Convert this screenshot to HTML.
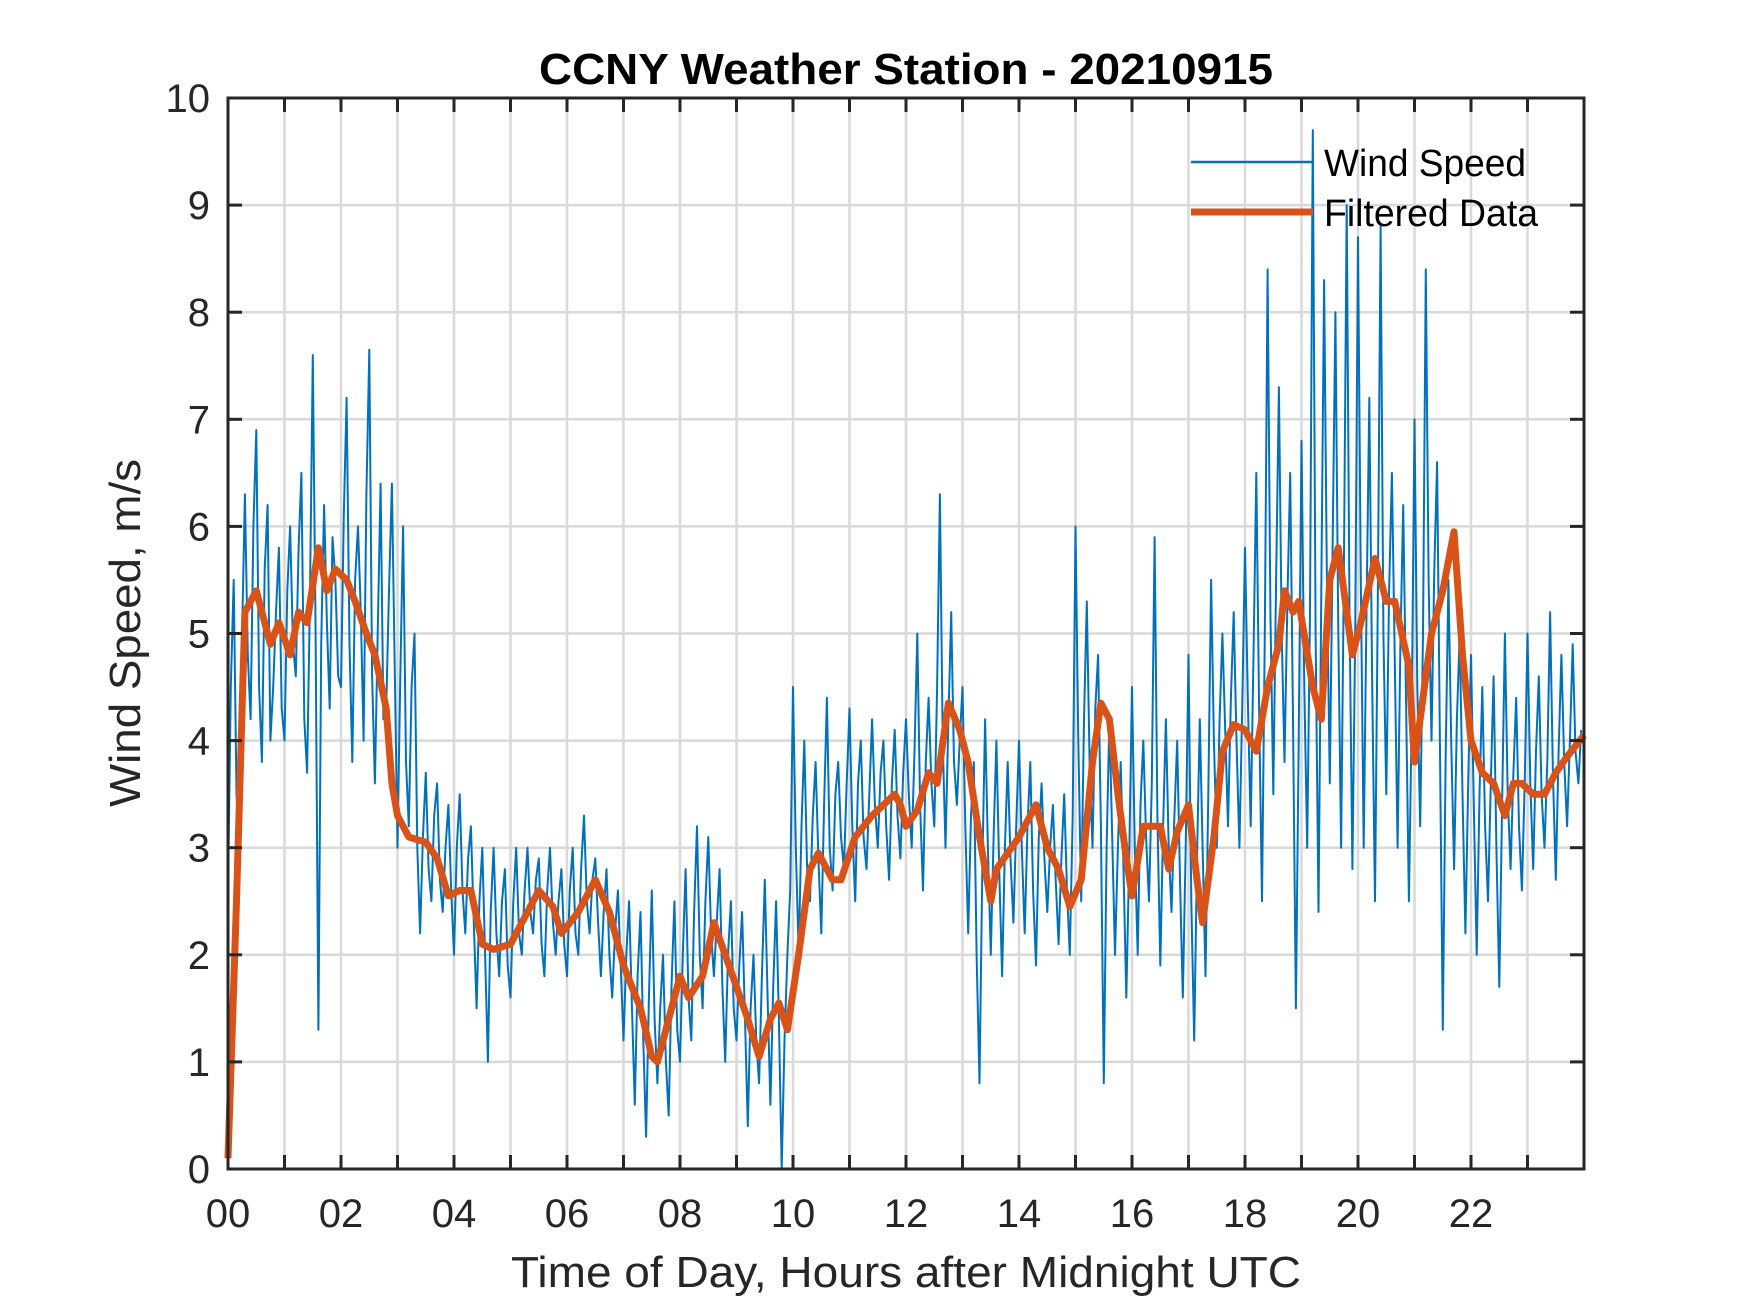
<!DOCTYPE html>
<html><head><meta charset="utf-8"><style>
html,body{margin:0;padding:0;background:#fff;}
svg{display:block;font-family:"Liberation Sans",Arial,sans-serif;}
</style></head><body>
<svg id="chart" width="1750" height="1313" viewBox="0 0 1750 1313" xmlns="http://www.w3.org/2000/svg">
<rect width="1750" height="1313" fill="#fff"/>
<g id="grid"></g>
<g id="series"></g>
<g id="axes"></g>
<text x="906" y="84" text-anchor="middle" font-weight="bold" font-size="44" fill="#000" textLength="734" lengthAdjust="spacingAndGlyphs">CCNY Weather Station - 20210915</text>
<text x="906" y="1287" text-anchor="middle" font-size="44" fill="#262626" textLength="790" lengthAdjust="spacingAndGlyphs">Time of Day, Hours after Midnight UTC</text>
<text transform="translate(140,633) rotate(-90)" text-anchor="middle" font-size="44" fill="#262626" textLength="348" lengthAdjust="spacingAndGlyphs">Wind Speed, m/s</text>
<g>
<line x1="1191" y1="162" x2="1313" y2="162" stroke="#0072BD" stroke-width="2.5"/>
<text x="1324" y="176" font-size="38" fill="#000" textLength="202" lengthAdjust="spacingAndGlyphs">Wind Speed</text>
<line x1="1191" y1="212" x2="1313" y2="212" stroke="#D95319" stroke-width="7"/>
<text x="1324" y="226" font-size="38" fill="#000" textLength="214" lengthAdjust="spacingAndGlyphs">Filtered Data</text>
</g>
</svg>
<script>
const xTickLabels=["00","02","04","06","08","10","12","14","16","18","20","22"];
const yTickLabels=["0","1","2","3","4","5","6","7","8","9","10"];
const rawStep=0.05;
const rawValues=[
2.6,4.5,5.5,3.5,3.0,5.0,6.3,4.8,4.2,6.0,6.9,4.5,3.8,5.6,6.2,4.0,4.5,5.2,5.8,4.3,
4.0,5.4,6.0,4.9,4.6,5.8,6.5,4.2,3.7,5.3,7.6,5.0,1.3,4.9,6.2,5.1,4.3,5.9,5.5,4.6,
4.5,6.1,7.2,4.9,3.8,5.5,6.0,5.2,4.0,6.3,7.65,4.6,3.6,5.0,6.4,4.2,4.3,5.4,6.4,4.7,
3.0,4.6,6.0,3.8,3.2,4.5,5.0,3.0,2.2,3.1,3.7,2.8,2.5,3.3,3.6,2.7,2.4,3.0,3.4,2.6,
2.0,3.0,3.5,2.6,2.2,2.9,3.2,2.3,1.5,2.5,3.0,2.0,1.0,2.4,3.0,2.2,1.8,2.5,2.8,1.9,
1.6,2.5,3.0,2.2,2.0,2.6,3.0,2.4,2.2,2.7,2.9,2.1,1.8,2.6,3.0,2.3,2.0,2.5,2.8,2.1,
1.8,2.6,3.0,2.2,2.0,2.8,3.3,2.5,2.2,2.7,2.9,2.3,1.8,2.4,2.8,2.0,1.6,2.2,2.6,1.9,
1.2,2.0,2.5,1.5,0.6,1.8,2.4,1.2,0.3,1.6,2.6,1.4,0.8,1.5,2.0,1.0,0.5,1.7,2.5,1.3,
1.0,2.0,2.8,1.6,1.2,2.4,3.2,2.0,1.5,2.5,3.1,2.2,1.8,2.3,2.8,1.7,1.0,2.0,2.5,1.5,
1.2,1.9,2.4,1.4,0.4,1.5,2.0,1.2,0.8,1.8,2.7,1.6,0.6,1.7,2.5,1.4,0.0,1.2,2.0,2.6,
4.5,3.0,2.0,3.2,4.0,2.8,2.5,3.3,3.8,2.9,2.2,3.4,4.4,3.0,2.6,3.5,3.8,3.1,2.8,3.6,
4.3,3.2,2.5,3.6,4.0,3.1,2.8,3.5,4.2,3.4,3.0,3.7,4.0,3.2,2.7,3.6,4.1,3.3,2.9,3.7,
4.2,3.5,3.0,3.9,5.0,3.4,2.6,3.8,4.4,3.6,3.2,4.5,6.3,4.0,3.0,4.2,5.2,3.8,3.4,4.0,
4.5,3.2,2.2,3.3,3.8,2.0,0.8,2.8,4.2,3.0,2.0,3.1,4.0,2.8,1.8,3.0,3.8,2.9,2.3,3.2,
4.0,3.0,2.2,3.2,3.8,2.6,1.9,3.1,3.6,2.9,2.4,3.0,3.4,2.7,2.1,2.9,3.5,2.6,2.0,3.3,
6.0,4.0,2.5,4.2,5.3,3.8,3.0,4.3,4.8,3.2,0.8,3.0,4.2,3.1,2.0,3.0,3.8,2.8,1.6,2.9,
4.5,3.0,2.0,3.4,4.0,3.1,2.5,3.6,5.9,3.3,1.9,3.2,4.2,3.0,2.4,3.3,4.0,2.7,1.6,3.0,
4.8,2.5,1.2,2.9,4.2,3.0,1.8,3.5,5.5,4.0,3.0,4.2,5.0,4.1,3.2,4.4,5.2,4.0,3.0,4.3,
5.8,4.4,3.2,4.8,6.5,4.3,2.5,5.0,8.4,5.2,3.5,5.5,7.3,5.0,3.8,5.3,6.5,4.2,1.5,4.0,
6.8,4.5,3.0,5.2,9.7,5.0,2.4,5.4,8.3,5.5,3.6,5.8,8.0,5.1,3.0,5.6,9.0,5.2,2.8,5.0,
8.7,5.5,3.0,5.2,7.2,4.6,2.5,5.3,8.8,5.0,3.5,5.4,6.5,4.8,3.0,4.9,6.2,4.4,2.5,4.2,
7.0,4.5,3.2,5.0,8.4,5.5,4.0,5.6,6.6,4.0,1.3,3.8,5.5,4.0,2.8,4.2,5.0,3.5,2.2,3.6,
4.8,3.4,2.0,3.5,4.5,3.2,2.5,3.6,4.6,3.0,1.7,3.4,5.0,3.5,2.8,3.7,4.4,3.2,2.6,3.6,
5.0,3.6,2.8,3.9,4.6,3.5,3.0,3.8,5.2,3.7,2.7,3.9,4.8,3.8,3.2,4.0,4.9,3.9,3.6,4.1];
const filtHours=[0,0.15,0.3,0.5,0.6,0.75,0.9,1.1,1.25,1.4,1.6,1.75,1.9,2.1,2.25,2.45,2.6,2.8,2.9,3.0,3.2,3.5,3.7,3.9,4.1,4.3,4.5,4.7,5.0,5.3,5.5,5.75,5.9,6.2,6.5,6.75,7.0,7.3,7.5,7.6,7.75,8.0,8.15,8.4,8.6,8.8,9.0,9.2,9.4,9.6,9.75,9.9,10.1,10.3,10.45,10.7,10.85,11.1,11.4,11.8,11.9,12.0,12.2,12.4,12.55,12.75,12.95,13.1,13.3,13.5,13.6,13.8,14.0,14.3,14.5,14.7,14.9,15.1,15.3,15.45,15.6,15.75,15.9,16.0,16.2,16.35,16.5,16.65,16.8,17.0,17.15,17.25,17.45,17.6,17.8,18.0,18.2,18.4,18.6,18.7,18.85,18.95,19.2,19.35,19.5,19.65,19.8,19.9,20.05,20.3,20.5,20.65,20.9,21.0,21.3,21.5,21.7,21.85,22.0,22.2,22.4,22.6,22.75,22.9,23.1,23.3,23.5,23.7,24.0];
const filtValues=[0.1,2.5,5.2,5.4,5.2,4.9,5.1,4.8,5.2,5.1,5.8,5.4,5.6,5.5,5.3,5.0,4.8,4.3,3.6,3.3,3.1,3.05,2.9,2.55,2.6,2.6,2.1,2.05,2.1,2.4,2.6,2.45,2.2,2.4,2.7,2.4,1.9,1.5,1.05,1.0,1.3,1.8,1.6,1.8,2.3,2.0,1.7,1.4,1.05,1.4,1.55,1.3,2.0,2.8,2.95,2.7,2.7,3.1,3.3,3.5,3.4,3.2,3.35,3.7,3.6,4.35,4.1,3.8,3.1,2.5,2.8,2.95,3.1,3.4,3.0,2.8,2.45,2.7,3.8,4.35,4.2,3.5,2.9,2.55,3.2,3.2,3.2,2.8,3.15,3.4,2.7,2.3,3.1,3.9,4.15,4.1,3.9,4.5,4.9,5.4,5.2,5.3,4.5,4.2,5.5,5.8,5.2,4.8,5.1,5.7,5.3,5.3,4.7,3.8,5.0,5.4,5.95,4.8,4.0,3.7,3.6,3.3,3.6,3.6,3.5,3.5,3.7,3.85,4.05];

const L=228,R=1584,T=98,B=1169;
const xMax=24, yMax=10;
function xs(h){return L+(h/xMax)*(R-L);}
function ys(v){return B-(v/yMax)*(B-T);}
const NS="http://www.w3.org/2000/svg";
function mk(tag,parent){const e=document.createElementNS(NS,tag);parent.appendChild(e);return e;}
const grid=document.getElementById('grid'),axes=document.getElementById('axes'),series=document.getElementById('series');
for(let h=1;h<xMax;h++){
 const g=mk('line',grid);
 
 
 g.setAttribute('x1',xs(h));g.setAttribute('x2',xs(h));g.setAttribute('y1',T);g.setAttribute('y2',B);
 g.setAttribute('stroke','#d9d9d9');g.setAttribute('stroke-width','2.5');
}
for(let v=1;v<yMax;v++){
 const g=mk('line',grid);
 
 
 g.setAttribute('x1',L);g.setAttribute('x2',R);g.setAttribute('y1',ys(v));g.setAttribute('y2',ys(v));
 g.setAttribute('stroke','#d9d9d9');g.setAttribute('stroke-width','2.5');
}
let d='';
rawValues.forEach((v,i)=>{d+=(i?'L':'M')+xs(i*rawStep).toFixed(1)+' '+ys(v).toFixed(1);});
const raw=mk('path',series);


raw.setAttribute('d',d);raw.setAttribute('fill','none');raw.setAttribute('stroke','#0072BD');raw.setAttribute('stroke-width','2');raw.setAttribute('stroke-linejoin','round');
let d2='';
filtValues.forEach((v,i)=>{d2+=(i?'L':'M')+xs(filtHours[i]).toFixed(1)+' '+ys(v).toFixed(1);});
const f=mk('path',series);


f.setAttribute('d',d2);f.setAttribute('fill','none');f.setAttribute('stroke','#D95319');f.setAttribute('stroke-width','7');f.setAttribute('stroke-linejoin','round');
const box=mk('rect',axes);


box.setAttribute('x',L);box.setAttribute('y',T);box.setAttribute('width',R-L);box.setAttribute('height',B-T);
box.setAttribute('fill','none');box.setAttribute('stroke','#262626');box.setAttribute('stroke-width','3');
for(let h=1;h<xMax;h++){
 [[B,B-14],[T,T+14]].forEach(p=>{
  const t=mk('line',axes);
  
  
  t.setAttribute('x1',xs(h));t.setAttribute('x2',xs(h));t.setAttribute('y1',p[0]);t.setAttribute('y2',p[1]);
  t.setAttribute('stroke','#262626');t.setAttribute('stroke-width','3');
 });
}
for(let v=1;v<yMax;v++){
 [[L,L+14],[R,R-14]].forEach(p=>{
  const t=mk('line',axes);
  
  
  t.setAttribute('x1',p[0]);t.setAttribute('x2',p[1]);t.setAttribute('y1',ys(v));t.setAttribute('y2',ys(v));
  t.setAttribute('stroke','#262626');t.setAttribute('stroke-width','3');
 });
}
xTickLabels.forEach((s,i)=>{
 const t=mk('text',axes);
 
 
 t.setAttribute('x',xs(i*2));t.setAttribute('y',B+58);t.setAttribute('text-anchor','middle');
 t.setAttribute('font-size','40');t.setAttribute('fill','#262626');t.textContent=s;
});
yTickLabels.forEach((s,i)=>{
 const t=mk('text',axes);
 
 
 t.setAttribute('x',L-18);t.setAttribute('y',ys(i)+14);t.setAttribute('text-anchor','end');
 t.setAttribute('font-size','40');t.setAttribute('fill','#262626');t.textContent=s;
});
</script>
</body></html>
